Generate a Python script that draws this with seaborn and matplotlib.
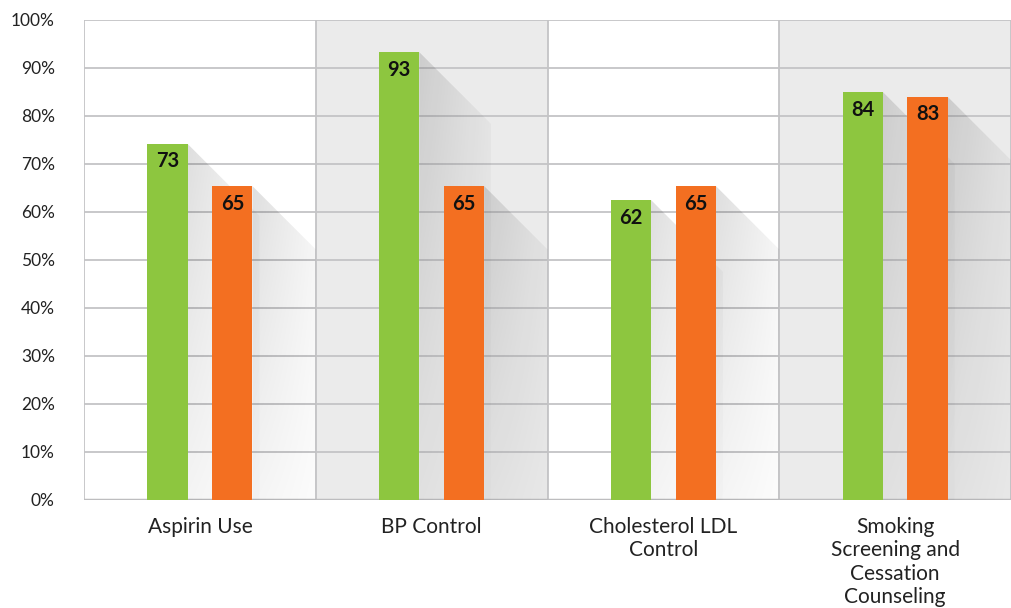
import numpy as np
import pandas as pd
import matplotlib
matplotlib.use("Agg")
import matplotlib.pyplot as plt
import seaborn as sns
from matplotlib.patches import Polygon

# ---- data ----
categories = ["Aspirin Use", "BP Control", "Cholesterol LDL\nControl",
              "Smoking\nScreening and\nCessation\nCounseling"]
series_names = ["Green", "Orange"]
green_values = [74.2, 93.3, 62.5, 85.0]
orange_values = [65.4, 65.4, 65.4, 84.0]
green_labels = ["73", "93", "62", "84"]
orange_labels = ["65", "65", "65", "83"]
ytick_values = [0, 10, 20, 30, 40, 50, 60, 70, 80, 90, 100]
ytick_labels = [f"{v}%" for v in ytick_values]

GREEN = "#8dc63f"
ORANGE = "#f36f21"
GRAY_BG = "#ebebeb"
GRID = "#c4c4c6"

sns.set_theme(style="white")
plt.rcParams['font.family'] = ['Lato', 'DejaVu Sans']

fig = plt.figure(figsize=(10.11, 6.08), dpi=100)
ax = fig.add_axes([84 / 1011, 108 / 608, (1011 - 84) / 1011, 480 / 608])

df = pd.DataFrame({
    "category": categories * 2,
    "series": [series_names[0]] * 4 + [series_names[1]] * 4,
    "value": green_values + orange_values,
})

# backgrounds
for i in range(len(categories)):
    if i % 2 == 1:
        ax.axvspan(i - 0.5, i + 0.5, color=GRAY_BG, zorder=0, lw=0)

sns.barplot(data=df, x="category", y="value", hue="series",
            palette=[GREEN, ORANGE], width=0.56, gap=0.38, legend=False,
            saturation=1, ax=ax, zorder=3, errorbar=None, linewidth=0)

ax.set_xlim(-0.5, len(categories) - 0.5)
ax.set_ylim(0, 100)

# grid
for v in ytick_values[1:]:
    ax.axhline(v, color=GRID, lw=1.3, zorder=1)
for b in np.arange(-0.5, len(categories) - 0.4, 1.0):
    ax.axvline(b, color=GRID, lw=1.3, zorder=1)
ax.axhline(0, color="#bdbdbf", lw=2.5, zorder=1)

# long diagonal shadows
px_per_x = (1011 - 84) / len(categories)
px_per_y = 480 / 100
shadow_px = 72
dx = shadow_px / px_per_x
dy = shadow_px / px_per_y
for patch in list(ax.patches):
    x0 = patch.get_x()
    w = patch.get_width()
    h = patch.get_height()
    if h <= 0:
        continue
    x1 = x0 + w
    cat_right = np.floor(x0 + 0.5) + 0.5
    right = min(x1 + dx, cat_right)
    y_right = max(h - (right - x1) / dx * dy, 0)
    poly = Polygon([(x1, h), (right, y_right), (right, 0), (x1, 0)],
                   closed=True, transform=ax.transData, facecolor="none",
                   edgecolor="none")
    ax.add_patch(poly)
    nx, ny = 60, 60
    xf = np.linspace(0, 1, nx)[None, :]
    yf = np.linspace(1, 0, ny)[:, None]
    alpha = 0.13 * (1 - 0.75 * xf) * (0.35 + 0.65 * yf)
    img = np.zeros((ny, nx, 4))
    img[..., 3] = alpha
    im = ax.imshow(img, extent=(x1, x1 + dx, 0, h), aspect="auto",
                   origin="upper", zorder=2, interpolation="bilinear")
    im.set_clip_path(poly)

ax.set_xlim(-0.5, len(categories) - 0.5)
ax.set_ylim(0, 100)

# labels inside bars
for cont, labs in zip(ax.containers, [green_labels, orange_labels]):
    for bar, lab in zip(cont, labs):
        ax.annotate(lab, (bar.get_x() + bar.get_width() / 2, bar.get_height()),
                    xytext=(0, -5.5), textcoords="offset points",
                    ha="center", va="top", fontsize=14.5, fontweight="bold",
                    color="#111111", zorder=5)

ax.set_yticks(ytick_values)
ax.set_yticklabels(ytick_labels)
ax.tick_params(axis="y", length=0, pad=21, labelsize=12.5, labelcolor="#222222")
ax.tick_params(axis="x", length=0, pad=12, labelsize=15, labelcolor="#222222")
for t in ax.get_xticklabels():
    t.set_linespacing(1.22)
ax.set_xlabel("")
ax.set_ylabel("")
for s in ax.spines.values():
    s.set_visible(False)

fig.savefig("out.png", dpi=100)
